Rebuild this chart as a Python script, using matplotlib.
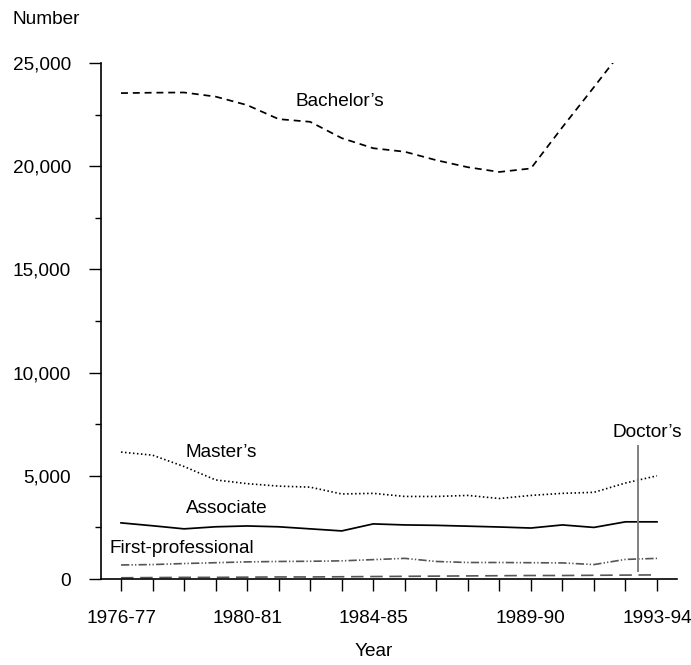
import numpy as np
import matplotlib
matplotlib.use("Agg")
import matplotlib.pyplot as plt
from matplotlib.ticker import MultipleLocator

plt.rcParams['font.family'] = ['Liberation Sans', 'DejaVu Sans']

# School years shown on the x axis
years = ['1976-77', '1977-78', '1978-79', '1979-80', '1980-81', '1981-82',
         '1982-83', '1983-84', '1984-85', '1985-86', '1986-87', '1987-88',
         '1988-89', '1989-90', '1990-91', '1991-92', '1992-93', '1993-94']
labelled_years = ['1976-77', '1980-81', '1984-85', '1989-90', '1993-94']

# Degrees conferred
bachelors = [23540, 23560, 23570, 23370, 22960, 22280, 22150, 21360, 20870,
             20700, 20290, 19950, 19720, 19890, 21890, 23830, 25800, 27500]
masters = [6150, 6000, 5450, 4800, 4620, 4500, 4450, 4120, 4150,
           4000, 4000, 4050, 3900, 4050, 4150, 4200, 4650, 5000]
associate = [2720, 2580, 2430, 2530, 2570, 2530, 2430, 2330, 2670,
             2620, 2600, 2560, 2520, 2470, 2620, 2500, 2770, 2770]
first_prof = [680, 700, 750, 790, 830, 850, 860, 880, 940,
              1000, 850, 800, 800, 790, 780, 700, 950, 1000]
doctors = [60, 70, 80, 80, 90, 100, 100, 110, 120,
           130, 140, 150, 160, 170, 170, 180, 190, 200]

x = np.arange(len(years))

fig = plt.figure(figsize=(6.91, 6.65), dpi=100)
ax = fig.add_axes([0.1462, 0.1293, 0.8335, 0.776])

# the series
ax.plot(x, bachelors, color='black', lw=1.25, dashes=(4.0, 2.8))
ax.plot(x, masters, color='black', lw=1.2, dashes=(0.9, 1.5))
ax.plot(x, associate, color='black', lw=1.25)
ax.plot(x, first_prof, color='#555555', lw=1.2,
        dashes=(5, 1.3, 0.8, 1.3, 0.8, 1.3))
ax.plot(x, doctors, color='#555555', lw=1.2, dashes=(7.5, 4))

fs = 13.7
ax.text(5.55, 23150, "Bachelor\u2019s", fontsize=fs, va='center')
ax.text(2.06, 6120, "Master\u2019s", fontsize=fs, va='center')
ax.text(2.06, 3410, "Associate", fontsize=fs, va='center')
ax.text(-0.38, 1460, "First-professional", fontsize=fs, va='center')
ax.text(15.6, 7090, "Doctor\u2019s", fontsize=fs, va='center')
# pointer from the Doctor's label down to its line
ax.plot([16.4, 16.4], [400, 6450], color='#808080', lw=1.4)

ax.set_xlim(-0.634, 17.634)
ax.set_ylim(0, 25000)

ax.spines['top'].set_visible(False)
ax.spines['right'].set_visible(False)
for s in ['left', 'bottom']:
    ax.spines[s].set_linewidth(1.2)

ax.set_xticks(x)
ax.set_xticklabels([y if y in labelled_years else '' for y in years])
ax.yaxis.set_major_locator(MultipleLocator(5000))
ax.yaxis.set_minor_locator(MultipleLocator(2500))
ax.set_yticklabels(['{:,}'.format(int(v)) for v in ax.get_yticks()])

ax.tick_params(axis='x', length=8.6, width=1.0, pad=14, labelsize=fs)
ax.tick_params(axis='y', which='major', length=8.6, width=1.0, pad=13,
               labelsize=fs)
ax.tick_params(axis='y', which='minor', length=4.3, width=1.0)

fig.text(13 / 691, 1 - 20 / 665, 'Number', fontsize=fs, va='center')
fig.text(374 / 691, 1 - 652 / 665, 'Year', fontsize=fs, ha='center',
         va='center')

fig.savefig('out.png', dpi=100)
